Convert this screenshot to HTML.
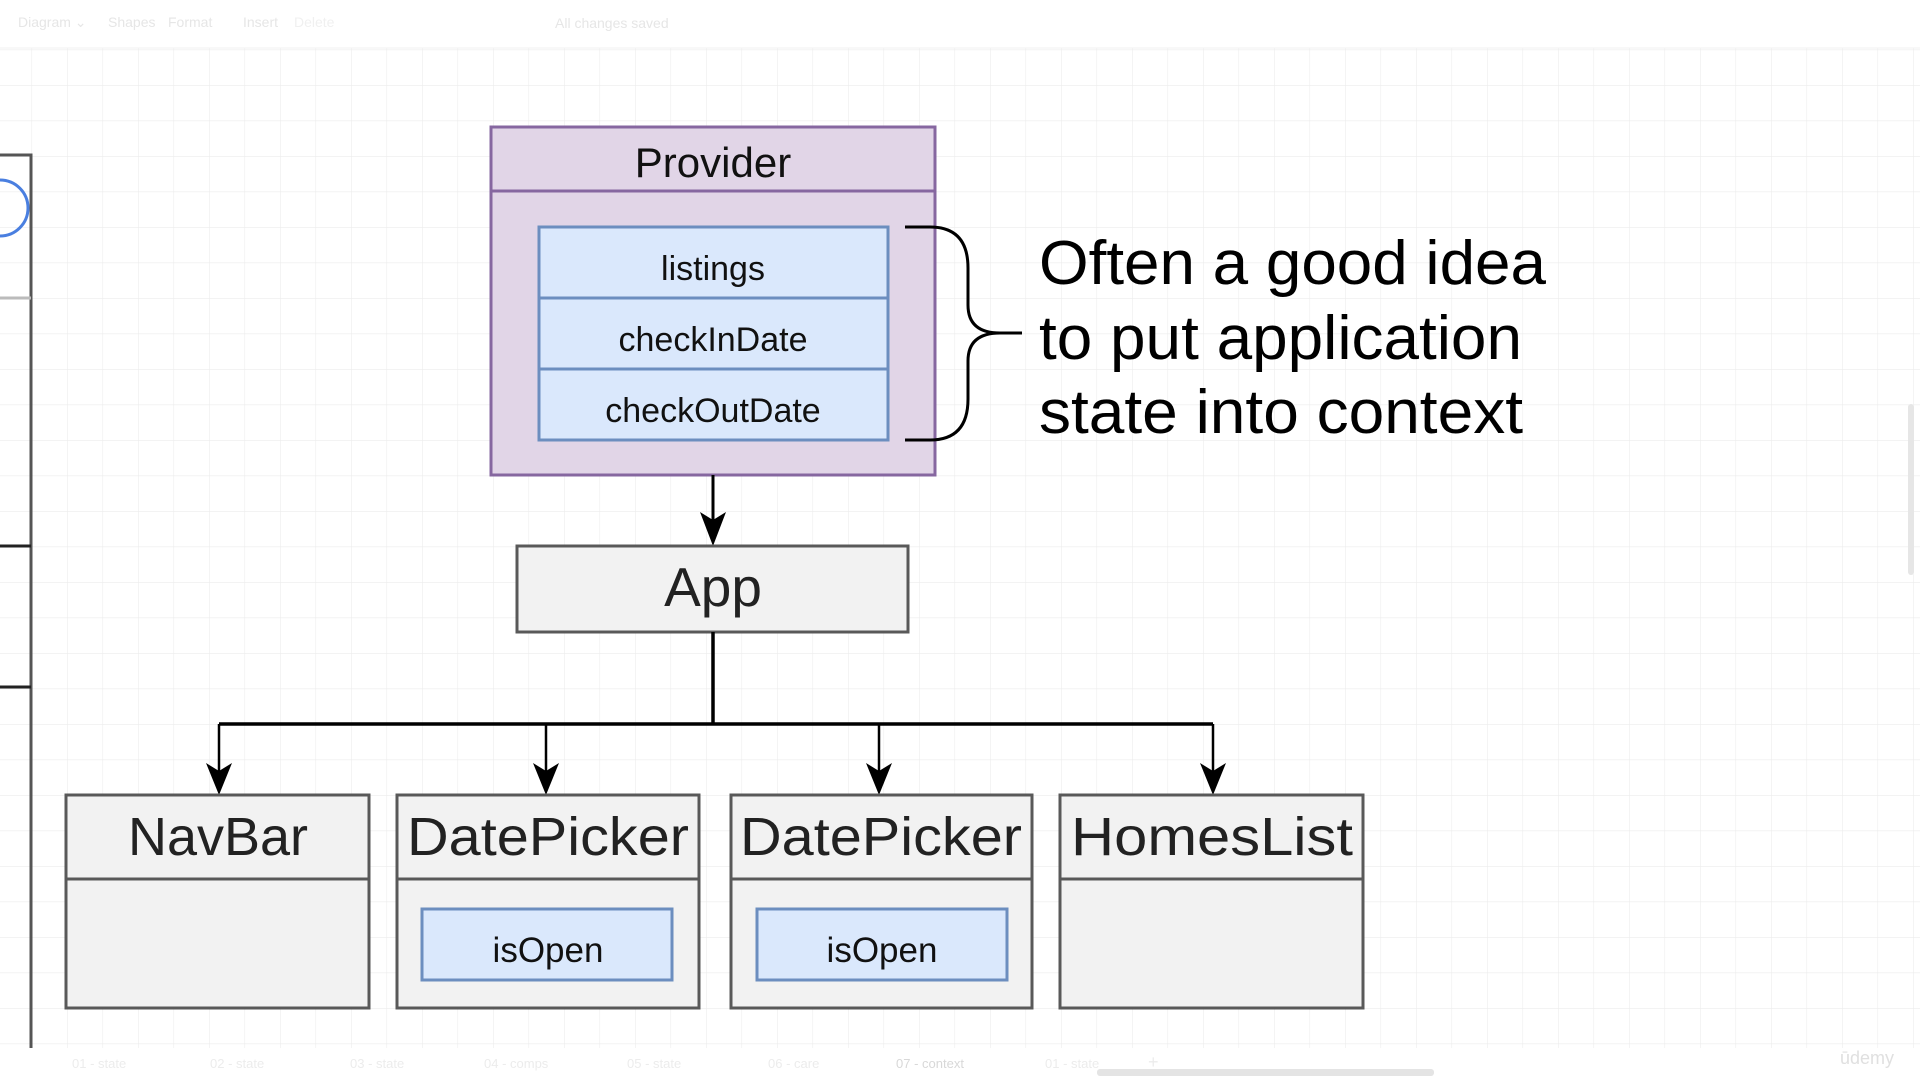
<!DOCTYPE html>
<html><head><meta charset="utf-8"><style>
html,body{margin:0;padding:0;background:#fff;}
svg{display:block;font-family:"Liberation Sans",Arial,sans-serif;}
</style></head><body>
<svg width="1920" height="1080" viewBox="0 0 1920 1080" xmlns="http://www.w3.org/2000/svg">
<defs>
<pattern id="g" x="31.5" y="14" width="35.5" height="35.5" patternUnits="userSpaceOnUse">
<path d="M0 0H35.5M0 0V35.5" stroke="#ececec" stroke-width="1.2" fill="none"/>
</pattern>
</defs>
<rect width="1920" height="1080" fill="#fff"/>
<rect x="0" y="48" width="1920" height="1000" fill="url(#g)"/>
<g fill="#e6e6e6" font-size="14">
<text x="18" y="27">Diagram ⌄</text><text x="108" y="27">Shapes</text><text x="168" y="27">Format</text>
<text x="243" y="27">Insert</text><text x="294" y="27" fill="#f0f0f0">Delete</text>
<text x="555" y="28">All changes saved</text>
</g>
<line x1="0" y1="48" x2="1920" y2="48" stroke="#f0f0f0"/>
<path d="M0 155H31V1060" stroke="#555" stroke-width="3" fill="none"/>
<line x1="0" y1="298" x2="31" y2="298" stroke="#bbb" stroke-width="3"/>
<path d="M0 546H31M0 687H31" stroke="#222" stroke-width="3" fill="none"/>
<path d="M0 180 A28 28 0 0 1 0 236" stroke="#4a7fe0" stroke-width="3" fill="none"/>
<rect x="491" y="127" width="444" height="348" fill="#e1d5e7" stroke="#8667a0" stroke-width="3"/>
<line x1="491" y1="191" x2="935" y2="191" stroke="#8667a0" stroke-width="3"/>
<text x="713" y="177" font-size="42" text-anchor="middle" fill="#111">Provider</text>
<rect x="539" y="227" width="349" height="213" fill="#dae8fc" stroke="#6c8ebf" stroke-width="3"/>
<path d="M539 298H888M539 369H888" stroke="#6c8ebf" stroke-width="3"/>
<g font-size="34" text-anchor="middle" fill="#111">
<text x="713" y="280">listings</text><text x="713" y="351">checkInDate</text><text x="713" y="422">checkOutDate</text>
</g>
<path d="M905 227H930Q968 227 968 268V305Q968 333 1000 333H1022M1000 333Q968 333 968 361V399Q968 440 930 440H905" stroke="#000" stroke-width="3" fill="none"/>
<g font-size="62" fill="#000">
<text x="1039" y="284" textLength="507" lengthAdjust="spacingAndGlyphs">Often a good idea</text>
<text x="1039" y="359" textLength="483" lengthAdjust="spacingAndGlyphs">to put application</text>
<text x="1039" y="433" textLength="484" lengthAdjust="spacingAndGlyphs">state into context</text>
</g>
<line x1="713" y1="475" x2="713" y2="530" stroke="#000" stroke-width="3"/>
<path d="M700 512L713 546L726 512L713 520Z" fill="#000"/>
<rect x="517" y="546" width="391" height="86" fill="#f2f2f2" stroke="#595959" stroke-width="3"/>
<text x="713" y="606" font-size="55" text-anchor="middle" fill="#222">App</text>
<path d="M713 632V724M219 724H1213" stroke="#000" stroke-width="3.5" fill="none"/>
<g stroke="#000" stroke-width="2.5">
<line x1="219" y1="724" x2="219" y2="780"/><line x1="546" y1="724" x2="546" y2="780"/>
<line x1="879" y1="724" x2="879" y2="780"/><line x1="1213" y1="724" x2="1213" y2="780"/>
</g>
<g fill="#000">
<path d="M206 763L219 795L232 763L219 771Z"/><path d="M533 763L546 795L559 763L546 771Z"/>
<path d="M866 763L879 795L892 763L879 771Z"/><path d="M1200 763L1213 795L1226 763L1213 771Z"/>
</g>
<g fill="#f2f2f2" stroke="#595959" stroke-width="3">
<rect x="66" y="795" width="303" height="213"/><rect x="397" y="795" width="302" height="213"/>
<rect x="731" y="795" width="301" height="213"/><rect x="1060" y="795" width="303" height="213"/>
<path d="M66 879H369M397 879H699M731 879H1032M1060 879H1363" fill="none"/>
</g>
<g font-size="54" text-anchor="middle" fill="#222">
<text x="218" y="855">NavBar</text>
<text x="548" y="855" textLength="282" lengthAdjust="spacingAndGlyphs">DatePicker</text>
<text x="881" y="855" textLength="282" lengthAdjust="spacingAndGlyphs">DatePicker</text>
<text x="1212" y="855" textLength="282" lengthAdjust="spacingAndGlyphs">HomesList</text>
</g>
<g fill="#dae8fc" stroke="#6c8ebf" stroke-width="3">
<rect x="422" y="909" width="250" height="71"/><rect x="757" y="909" width="250" height="71"/>
</g>
<g font-size="35" text-anchor="middle" fill="#111">
<text x="548" y="962">isOpen</text><text x="882" y="962">isOpen</text>
</g>
<rect x="0" y="1048" width="1920" height="32" fill="#fff"/>
<g fill="#ececec" font-size="13">
<text x="72" y="1068">01 - state</text><text x="210" y="1068">02 - state</text><text x="350" y="1068">03 - state</text>
<text x="484" y="1068">04 - comps</text><text x="627" y="1068">05 - state</text><text x="768" y="1068">06 - care</text>
<text x="896" y="1068" fill="#d8d8d8">07 - context</text><text x="1045" y="1068">01 - state</text>
<text x="1148" y="1068" font-size="18">+</text>
</g>
<rect x="1097" y="1069" width="337" height="7" rx="3" fill="#e4e4e4"/>
<text x="1840" y="1064" font-size="18" fill="#e0e0e0">ūdemy</text>
<rect x="1908" y="404" width="6" height="171" rx="3" fill="#e6e6e6"/>
</svg>
</body></html>
